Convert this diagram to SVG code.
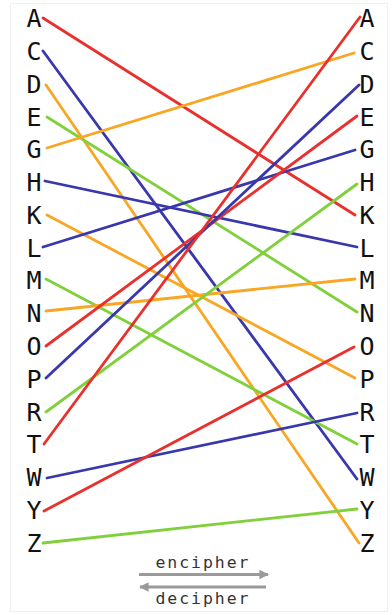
<svg xmlns="http://www.w3.org/2000/svg" width="392" height="615" viewBox="0 0 392 615">
<style>
.l{font-family:"DejaVu Sans Mono","Liberation Mono",monospace;font-size:25px;fill:#111;text-anchor:middle}
.c line{stroke-width:2.8;stroke-linecap:round}
.r{stroke:#e8312d}.b{stroke:#3838ac}.o{stroke:#f8a623}.g{stroke:#80d03c}
.cap{font-family:"DejaVu Sans Mono","Liberation Mono",monospace;font-size:16.5px;fill:#333;text-anchor:middle}
.arr{stroke:#9a9a9a;stroke-width:3}
</style>
<defs>
<marker id="ah" viewBox="0 0 10 10" refX="9" refY="5" markerWidth="3.2" markerHeight="3.2" orient="auto-start-reverse"><path d="M0,0L10,5L0,10z" fill="#9a9a9a"/></marker>
</defs>
<rect x="0" y="0" width="392" height="615" fill="#fff"/>
<rect x="10.5" y="3.5" width="377" height="608" fill="none" stroke="#f0f0f0"/>
<g id="connectors" class="c">
<line class="r" x1="43" y1="18" x2="355" y2="215"/>
<line class="b" x1="43" y1="51" x2="357" y2="479"/>
<line class="o" x1="46" y1="85" x2="359" y2="543"/>
<line class="g" x1="47" y1="117" x2="357" y2="312"/>
<line class="o" x1="47" y1="148" x2="354" y2="53"/>
<line class="b" x1="45" y1="181" x2="357" y2="247"/>
<line class="o" x1="47" y1="215" x2="355" y2="378"/>
<line class="b" x1="43" y1="247" x2="355" y2="150"/>
<line class="g" x1="46" y1="279" x2="357" y2="444"/>
<line class="o" x1="46" y1="311" x2="355" y2="279"/>
<line class="r" x1="46" y1="346" x2="357" y2="116"/>
<line class="b" x1="46" y1="378" x2="359" y2="85"/>
<line class="g" x1="46" y1="412" x2="357" y2="184"/>
<line class="r" x1="44" y1="444" x2="360" y2="17"/>
<line class="b" x1="47" y1="478" x2="357" y2="413"/>
<line class="r" x1="44" y1="511" x2="354" y2="347"/>
<line class="g" x1="43" y1="543" x2="357" y2="509"/>
</g>
<g id="left">
<text class="l" x="34" y="27">A</text>
<text class="l" x="34" y="60">C</text>
<text class="l" x="34" y="93">D</text>
<text class="l" x="34" y="126">E</text>
<text class="l" x="34" y="158">G</text>
<text class="l" x="34" y="191">H</text>
<text class="l" x="34" y="224">K</text>
<text class="l" x="34" y="257">L</text>
<text class="l" x="34" y="289">M</text>
<text class="l" x="34" y="322">N</text>
<text class="l" x="34" y="355">O</text>
<text class="l" x="34" y="388">P</text>
<text class="l" x="34" y="421">R</text>
<text class="l" x="34" y="453">T</text>
<text class="l" x="34" y="486">W</text>
<text class="l" x="34" y="519">Y</text>
<text class="l" x="34" y="552">Z</text>
</g>
<g id="right">
<text class="l" x="367" y="27">A</text>
<text class="l" x="367" y="60">C</text>
<text class="l" x="367" y="93">D</text>
<text class="l" x="367" y="126">E</text>
<text class="l" x="367" y="158">G</text>
<text class="l" x="367" y="191">H</text>
<text class="l" x="367" y="224">K</text>
<text class="l" x="367" y="257">L</text>
<text class="l" x="367" y="289">M</text>
<text class="l" x="367" y="322">N</text>
<text class="l" x="367" y="355">O</text>
<text class="l" x="367" y="388">P</text>
<text class="l" x="367" y="421">R</text>
<text class="l" x="367" y="453">T</text>
<text class="l" x="367" y="486">W</text>
<text class="l" x="367" y="519">Y</text>
<text class="l" x="367" y="552">Z</text>
</g>
<g id="legend">
<text class="cap" x="202" y="568" textLength="93" lengthAdjust="spacing">encipher</text>
<line class="arr" x1="139" y1="574.5" x2="268" y2="574.5" marker-end="url(#ah)"/>
<line class="arr" x1="266" y1="587" x2="140" y2="587" marker-end="url(#ah)"/>
<text class="cap" x="202" y="604" textLength="93" lengthAdjust="spacing">decipher</text>
</g>
</svg>
